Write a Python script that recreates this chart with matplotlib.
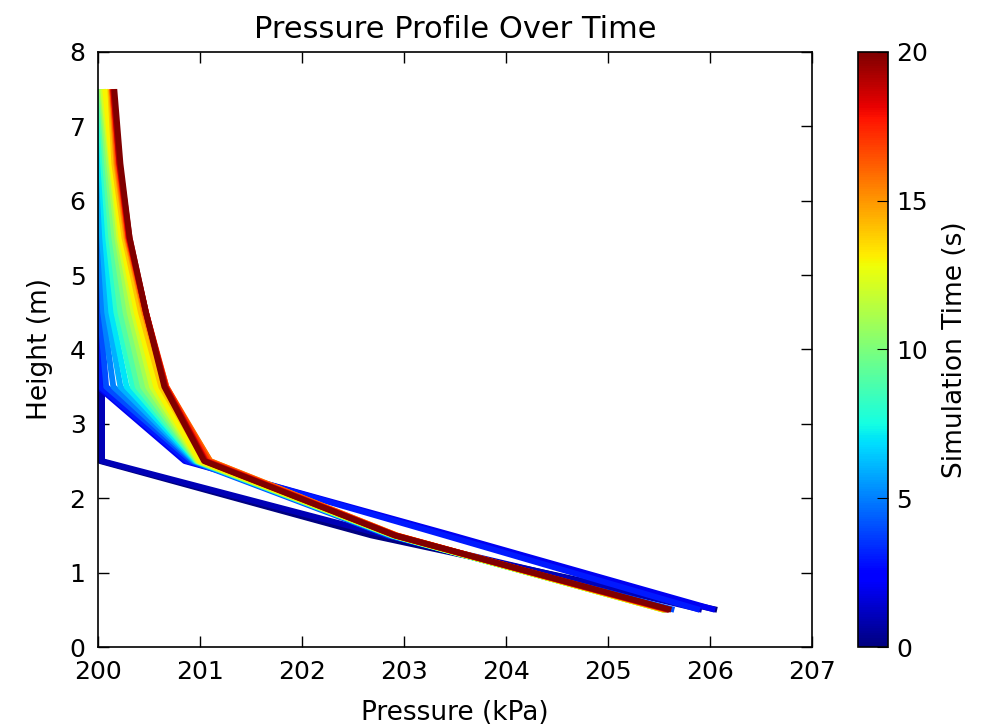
import numpy as np
import matplotlib
matplotlib.use("Agg")
import matplotlib.pyplot as plt
from matplotlib import cm, colors

# heights where the pressure is sampled (m)
heights = [0.5, 1.5, 2.5, 3.5, 4.5, 5.5, 6.5, 7.5]

# simulation times (s), one profile per time
times = list(range(21))

# pressure (kPa) at each height, one row per time step
pressure = [
    [206.07, 202.68, 200.02, 200.03, 200.00, 200.00, 200.00, 200.00],
    [205.92, 202.82, 200.04, 200.04, 200.00, 200.00, 200.00, 200.00],
    [206.05, 203.48, 200.85, 200.00, 200.00, 200.00, 200.00, 200.00],
    [205.90, 203.40, 200.88, 200.02, 200.00, 200.00, 200.00, 200.00],
    [205.65, 202.85, 200.92, 200.08, 200.02, 200.00, 200.00, 200.00],
    [205.60, 202.88, 200.94, 200.15, 200.05, 200.02, 200.00, 200.00],
    [205.58, 202.88, 200.95, 200.22, 200.09, 200.04, 200.01, 200.00],
    [205.57, 202.88, 200.96, 200.28, 200.13, 200.07, 200.03, 200.00],
    [205.56, 202.89, 200.97, 200.34, 200.18, 200.10, 200.05, 200.01],
    [205.56, 202.89, 200.97, 200.39, 200.22, 200.13, 200.07, 200.02],
    [205.55, 202.89, 200.98, 200.44, 200.27, 200.16, 200.09, 200.03],
    [205.55, 202.90, 200.98, 200.49, 200.31, 200.19, 200.11, 200.04],
    [205.55, 202.90, 200.99, 200.53, 200.35, 200.21, 200.13, 200.05],
    [205.55, 202.91, 201.00, 200.57, 200.38, 200.23, 200.14, 200.07],
    [205.56, 202.92, 201.05, 200.62, 200.42, 200.26, 200.16, 200.12],
    [205.57, 202.93, 201.10, 200.66, 200.45, 200.28, 200.18, 200.13],
    [205.58, 202.93, 201.10, 200.67, 200.46, 200.29, 200.19, 200.14],
    [205.59, 202.92, 201.08, 200.67, 200.47, 200.30, 200.20, 200.14],
    [205.60, 202.92, 201.06, 200.66, 200.47, 200.30, 200.21, 200.15],
    [205.60, 202.91, 201.05, 200.66, 200.47, 200.31, 200.21, 200.15],
    [205.62, 202.91, 201.04, 200.65, 200.47, 200.31, 200.22, 200.16],
]

plt.rcParams['font.family'] = 'DejaVu Sans'

fig = plt.figure(figsize=(9.82, 7.26), dpi=100)
ax = fig.add_axes([0.0998, 0.1088, 0.7271, 0.8196])
cax = fig.add_axes([0.8737, 0.1088, 0.0305, 0.8196])

norm = colors.Normalize(vmin=0, vmax=20)
cmap = plt.get_cmap('jet')

for t, p in zip(times, pressure):
    ax.plot(p, heights, color=cmap(norm(t)), lw=4.2, solid_capstyle='butt')

ax.set_xlim(200, 207)
ax.set_ylim(0, 8)
ax.set_xticks(range(200, 208))
ax.set_yticks(range(0, 9))
ax.tick_params(direction='in', top=True, right=True, length=8, width=1,
               labelsize=18)
ax.tick_params(axis='x', pad=9)
ax.tick_params(axis='y', pad=9)
for s in ax.spines.values():
    s.set_linewidth(1.2)

ax.set_title('Pressure Profile Over Time', fontsize=22, pad=10)
ax.set_xlabel('Pressure (kPa)', fontsize=19, labelpad=12)
ax.set_ylabel('Height (m)', fontsize=19, labelpad=12)

sm = cm.ScalarMappable(norm=norm, cmap=cmap)
sm.set_array([])
cb = fig.colorbar(sm, cax=cax, ticks=[0, 5, 10, 15, 20])
cb.ax.tick_params(direction='in', length=8, labelsize=18, pad=6)
cb.outline.set_linewidth(1.2)
cb.set_label('Simulation Time (s)', fontsize=19, labelpad=10)

fig.savefig('out.png', dpi=100, facecolor='white')
